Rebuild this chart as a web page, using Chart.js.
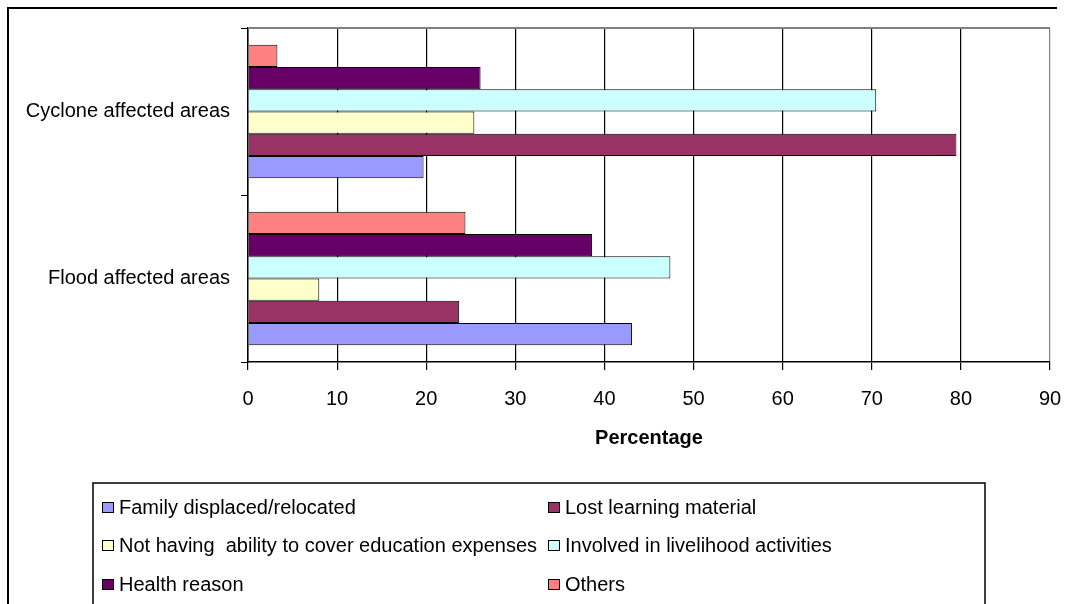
<!DOCTYPE html>
<html>
<head>
<meta charset="utf-8">
<script src="https://cdn.jsdelivr.net/npm/chart.js@4"></script>
<style>
  body { margin: 0; background: #fff; }
  canvas { display: block; }
</style>
</head>
<body>
<canvas id="reasonChart" width="1065" height="604"></canvas>
<script>
// data (percent)
const areas = ["Cyclone affected areas", "Flood affected areas"];
const reasons = [
  "Family displaced/relocated",
  "Lost learning material",
  "Not having  ability to cover education expenses",
  "Involved in livelihood activities",
  "Health reason",
  "Others",
];
const familyDisplaced = [19.7, 43.1];
const lostMaterial = [79.5, 23.7];
const cannotCoverCost = [25.4, 8.0];
const livelihood = [70.5, 47.4];
const healthReason = [26.1, 38.6];
const others = [3.3, 24.4];
const xTicks = [0, 10, 20, 30, 40, 50, 60, 70, 80, 90];

const colors = ["#9999FF", "#993366", "#FFFFCC", "#CCFFFF", "#660066", "#FF8080"];
const seriesValues = [familyDisplaced, lostMaterial, cannotCoverCost, livelihood, healthReason, others];

const FONT = "'Liberation Sans', Arial, sans-serif";
Chart.defaults.color = "#000";
Chart.defaults.font.family = FONT;
Chart.defaults.font.size = 20;

// first dataset goes on top of a group, so feed them in reverse
// (the first series sits at the bottom in the picture)
const datasets = reasons
  .map((name, i) => ({
    label: name,
    data: seriesValues[i],
    backgroundColor: colors[i],
    borderColor: "#000",
    borderWidth: 1,
    categoryPercentage: 0.8,
    barPercentage: 1.0,
  }))
  .reverse();

const frameAndBorder = {
  id: "frameAndBorder",
  beforeDatasetsDraw(chart) {
    const { ctx, chartArea } = chart;
    ctx.save();
    ctx.strokeStyle = "#808080";
    ctx.lineWidth = 2;
    ctx.beginPath();
    ctx.moveTo(chartArea.left, chartArea.top);
    ctx.lineTo(chartArea.right, chartArea.top);
    ctx.stroke();
    ctx.restore();
  },
  afterDraw(chart) {
    const ctx = chart.ctx;
    ctx.save();
    // outer chart frame (right and bottom cut off in the picture)
    ctx.strokeStyle = "#000";
    ctx.lineWidth = 2;
    ctx.beginPath();
    ctx.moveTo(1057, 8);
    ctx.lineTo(8, 8);
    ctx.lineTo(8, 610);
    ctx.stroke();

    // legend box, two columns, three rows
    const box = { left: 93, top: 483, right: 985, bottom: 620 };
    ctx.lineWidth = 1.5;
    ctx.strokeRect(box.left, box.top, box.right - box.left, box.bottom - box.top);
    const colX = [box.left + 9, 548];
    const rowY = [508, 546, 585];
    ctx.font = "20px " + FONT;
    ctx.textBaseline = "middle";
    reasons.forEach((name, i) => {
      const x = colX[i % 2];
      const y = rowY[Math.floor(i / 2)];
      ctx.fillStyle = colors[i];
      ctx.fillRect(x, y - 6, 12, 11);
      ctx.strokeStyle = "#000";
      ctx.lineWidth = 1;
      ctx.strokeRect(x + 0.5, y - 5.5, 11, 10);
      ctx.fillStyle = "#000";
      ctx.fillText(name, x + 17, y);
    });
    ctx.restore();
  },
};

new Chart("reasonChart", {
  type: "bar",
  data: {
    labels: areas,
    datasets: datasets,
  },
  options: {
    indexAxis: "y",
    responsive: false,
    animation: false,
    layout: {
      padding: { left: 10, top: 28, right: 15, bottom: 142 },
    },
    plugins: {
      legend: { display: false },
      tooltip: { enabled: false },
    },
    scales: {
      y: {
        offset: true,
        grid: {
          offset: true,
          drawOnChartArea: false,
          tickLength: 7,
          color: "#000",
        },
        border: { color: "#000", width: 1.5 },
        ticks: { padding: 11, font: { size: 20 } },
        afterFit(scale) {
          scale.width = 238;
        },
      },
      x: {
        min: 0,
        max: 90,
        afterBuildTicks(scale) {
          scale.ticks = xTicks.map((v) => ({ value: v }));
        },
        grid: {
          color: (c) => (c.tick && c.tick.value === 90 ? "#808080" : "#000"),
          tickColor: "#000",
          tickLength: 8,
          lineWidth: 1.2,
        },
        border: { color: "#000", width: 1.5 },
        ticks: { padding: 17, font: { size: 20 }, maxRotation: 0 },
        title: {
          display: true,
          text: "Percentage",
          font: { size: 20, weight: "bold" },
          padding: { top: 0, bottom: 12 },
        },
        afterFit(scale) {
          scale.height = 100;
          scale.paddingLeft = 0;
          scale.paddingRight = 0;
        },
      },
    },
  },
  plugins: [frameAndBorder],
});
</script>
</body>
</html>
